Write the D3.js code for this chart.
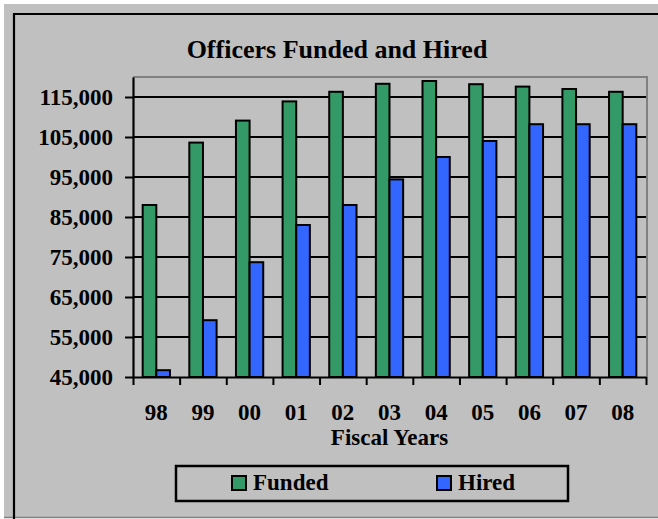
<!DOCTYPE html>
<html>
<head>
<meta charset="utf-8">
<script src="https://cdn.jsdelivr.net/npm/d3@7"></script>
<style>
  body { margin: 0; background: #fff; }
  text { font-family: "Liberation Serif", "Times New Roman", serif; font-weight: bold; fill: #000; }
</style>
</head>
<body>
<div id="chart"></div>
<script>
// Officers Funded and Hired, fiscal years 98-08

const years = ["98", "99", "00", "01", "02", "03", "04", "05", "06", "07", "08"];
const funded = [88000, 103600, 109100, 113900, 116300, 118300, 119000, 118200, 117600, 117000, 116300];
const hired = [46700, 59200, 73700, 83000, 88000, 94400, 100000, 104000, 108200, 108200, 108200];
const yTicks = [45000, 55000, 65000, 75000, 85000, 95000, 105000, 115000];
const seriesNames = ["Funded", "Hired"];
const seriesColors = ["#339966", "#3366ff"];

const width = 658, height = 519;
const plot = { left: 133, right: 646, top: 77, bottom: 377 };

const svg = d3.select("#chart")
  .append("svg")
    .attr("width", width)
    .attr("height", height);

// chart area background + frame
svg.append("rect")
  .attr("x", 4).attr("y", 4)
  .attr("width", width - 4).attr("height", 513)
  .attr("fill", "#c0c0c0");
svg.append("line")
  .attr("x1", 4).attr("x2", width).attr("y1", 517.5).attr("y2", 517.5)
  .attr("stroke", "#808080").attr("stroke-width", 1.5);
svg.append("path")
  .attr("d", `M14,${height}V14H${width}`)
  .attr("fill", "none")
  .attr("stroke", "#000")
  .attr("stroke-width", 2.2);

// Title
svg.append("text")
  .attr("x", 337)
  .attr("y", 58)
  .attr("text-anchor", "middle")
  .style("font-size", "26px")
  .text("Officers Funded and Hired");

// Scales
const y = d3.scaleLinear()
  .domain([45000, 120000])
  .range([plot.bottom, plot.top]);

const x0 = d3.scaleBand()
  .domain(years)
  .range([plot.left, plot.right])
  .paddingInner(0.415)
  .paddingOuter(0.2075);

const x1 = d3.scaleBand()
  .domain(seriesNames)
  .range([0, x0.bandwidth()]);

const xb = d3.scaleLinear()
  .domain([0, years.length])
  .range([plot.left, plot.right]);

// plot area border (top/right, grey)
svg.append("path")
  .attr("d", `M${plot.left},${plot.top}H${plot.right + 1}V${plot.bottom}`)
  .attr("fill", "none")
  .attr("stroke", "#808080")
  .attr("stroke-width", 2);

// Gridlines
svg.append("g")
  .selectAll("line")
  .data(yTicks.slice(1))
  .enter()
  .append("line")
    .attr("x1", plot.left)
    .attr("x2", plot.right)
    .attr("y1", d => y(d))
    .attr("y2", d => y(d))
    .attr("stroke", "#000")
    .attr("stroke-width", 2);

// Bars
const groups = svg.append("g")
  .selectAll("g")
  .data(years.map((yr, i) => ({ year: yr, values: [funded[i], hired[i]] })))
  .enter()
  .append("g")
    .attr("transform", d => `translate(${x0(d.year)},0)`);

groups.selectAll("rect")
  .data(d => d.values.map((v, j) => ({ key: seriesNames[j], value: v, color: seriesColors[j] })))
  .enter()
  .append("rect")
    .attr("x", d => x1(d.key))
    .attr("y", d => y(d.value))
    .attr("width", x1.bandwidth())
    .attr("height", d => plot.bottom - y(d.value))
    .attr("fill", d => d.color)
    .attr("stroke", "#000")
    .attr("stroke-width", 2);

// Y axis
const yAxis = svg.append("g")
  .attr("transform", `translate(${plot.left},0)`)
  .call(d3.axisLeft(y).tickValues(yTicks).tickSize(8).tickSizeOuter(0).tickPadding(12)
    .tickFormat(d3.format(",")));
yAxis.select(".domain").attr("stroke-width", 2.2);
yAxis.selectAll(".tick line").attr("stroke-width", 2);
yAxis.selectAll("text").style("font-size", "23px").attr("dy", "0.34em");

// X axis (ticks at category boundaries)
const xAxis = svg.append("g")
  .attr("transform", `translate(0,${plot.bottom})`)
  .call(d3.axisBottom(xb).tickValues(d3.range(0, years.length + 1)).tickSize(8).tickSizeOuter(0)
    .tickFormat(""));
xAxis.select(".domain").attr("stroke-width", 2.2);
xAxis.selectAll(".tick line").attr("stroke-width", 2);

// X labels
svg.append("g")
  .attr("transform", `translate(0,${plot.bottom})`)
  .call(d3.axisBottom(x0).tickSize(0).tickPadding(27))
  .call(g => g.select(".domain").remove())
  .selectAll("text")
    .style("font-size", "23px");

svg.append("text")
  .attr("x", (plot.left + plot.right) / 2)
  .attr("y", 445)
  .attr("text-anchor", "middle")
  .style("font-size", "23px")
  .text("Fiscal Years");

// Legend
const legend = svg.append("g");
legend.append("rect")
  .attr("x", 176).attr("y", 466)
  .attr("width", 392).attr("height", 35)
  .attr("fill", "none")
  .attr("stroke", "#000")
  .attr("stroke-width", 2.5);

const legendX = [232, 437];
seriesNames.forEach((name, i) => {
  legend.append("rect")
    .attr("x", legendX[i]).attr("y", 476)
    .attr("width", 14).attr("height", 14)
    .attr("fill", seriesColors[i])
    .attr("stroke", "#000")
    .attr("stroke-width", 2);
  legend.append("text")
    .attr("x", legendX[i] + 21)
    .attr("y", 490)
    .style("font-size", "23px")
    .text(name);
});
</script>
</body>
</html>
